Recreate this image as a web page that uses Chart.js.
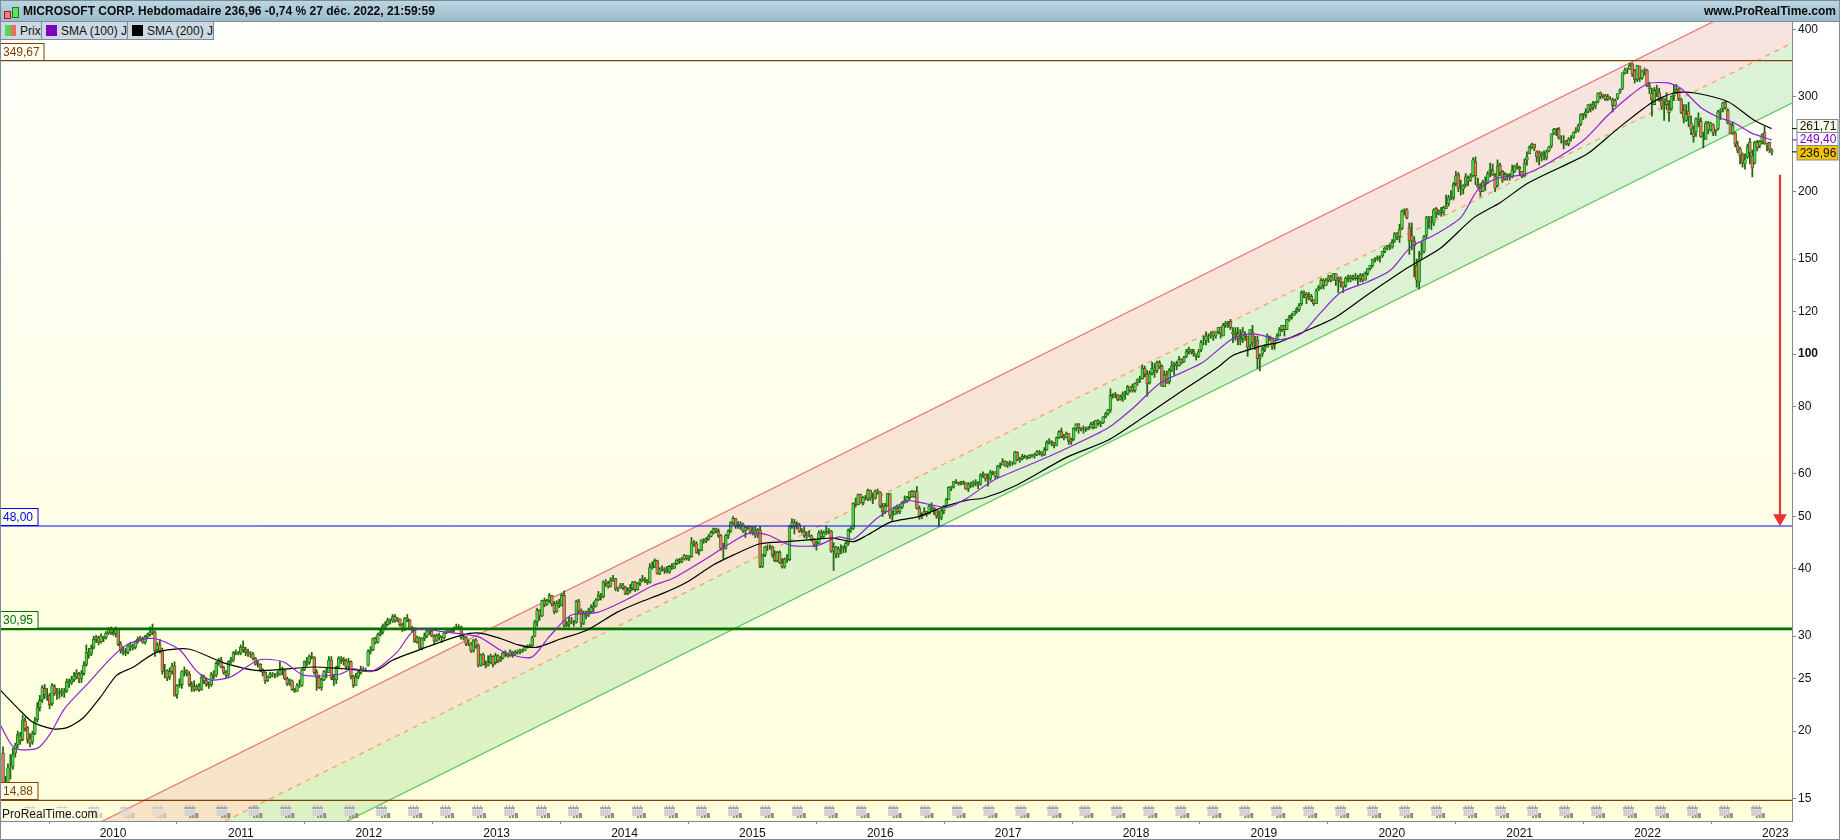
<!DOCTYPE html>
<html lang="fr">
<head>
<meta charset="utf-8">
<title>MICROSOFT CORP. Hebdomadaire</title>
<script src="https://cdn.jsdelivr.net/npm/chart.js@4"></script>
<style>
html, body { margin: 0; padding: 0; background: #fff; }
#frame { position: relative; width: 1840px; height: 840px; overflow: hidden; font-family: "Liberation Sans", Arial, sans-serif; }
#frame canvas { position: absolute; left: 0; top: 0; }
#edge { position: absolute; left: 0; top: 0; width: 1838px; height: 838px; border: 1px solid #7a8c98; pointer-events: none; }
#titlebar { position: absolute; left: 0; top: 0; width: 1840px; height: 21px; background: linear-gradient(#bdd6e2, #9dbccc); border-bottom: 1px solid #7a8c98; font-weight: bold; font-size: 12px; line-height: 23px; color: #0a0a0a; }
#titlebar .name { position: absolute; left: 23px; top: 0; white-space: nowrap; }
#titlebar .site { position: absolute; right: 4px; top: 0; white-space: nowrap; }
.candle { position: absolute; border: 1px solid; }
#legend { position: absolute; left: 1px; top: 22px; height: 17px; display: flex; font-size: 12px; line-height: 18px; color: #111; }
#legend div { position: relative; background: #ccd9e2; border-right: 1px solid #7a8c98; border-bottom: 1px solid #7a8c98; padding-left: 19px; height: 17px; white-space: nowrap; }
#legend i { position: absolute; left: 4px; top: 3px; width: 11px; height: 11px; }
</style>
</head>
<body>
<div id="frame">
  <canvas id="chart" width="1840" height="840"></canvas>
  <div id="titlebar">
    <span class="candle" style="left:4px;top:11px;width:5px;height:6px;background:#f08080;border-color:#a02020"></span>
    <span class="candle" style="left:12px;top:7px;width:5px;height:9px;background:#60e060;border-color:#108010"></span>
    <span class="name">MICROSOFT CORP. Hebdomadaire 236,96 -0,74 % 27 déc. 2022, 21:59:59</span>
    <span class="site">www.ProRealTime.com</span>
  </div>
  <div id="legend">
    <div style="width:21px"><i style="background:linear-gradient(90deg,#55d655 55%,#e87060 55%)"></i>Prix</div>
    <div style="width:66px"><i style="background:#8000c0"></i>SMA (100) J</div>
    <div style="width:66px"><i style="background:#000"></i>SMA (200) J</div>
  </div>
  <div id="edge"></div>
</div>
<script>
// weekly candles (first row is 2009, then one row per year)
const opens = [
18.2,16.0,15.4,17.1,17.2,18.2,18.9,19.6,19.3,20.9,20.3,19.4,19.1,19.8,21.0,22.1,22.9,24.0,23.4,23.3,22.5,24.2,23.6,23.5,23.5,23.6,23.8,24.7,24.6,24.9,25.2,25.5,25.0,25.6,26.6,28.0,27.8,28.6,29.6,29.8,29.3,29.9,29.8,30.4,30.9,
30.5,30.3,30.9,29.0,28.2,28.0,28.0,28.8,28.7,28.6,29.3,29.6,29.7,29.2,29.9,30.2,30.6,30.5,28.3,28.9,28.2,25.8,25.9,25.2,25.8,26.4,23.4,24.3,24.4,25.8,25.9,25.5,24.4,24.2,23.9,24.2,23.9,25.2,24.8,24.4,24.4,25.5,25.4,26.7,27.1,26.3,25.7,25.4,26.9,27.1,27.9,28.0,
27.9,28.6,28.3,28.0,27.8,27.8,27.3,26.6,26.6,26.0,25.7,24.8,25.2,25.5,25.4,25.4,25.5,25.9,25.9,25.0,24.5,24.8,23.9,23.7,24.3,24.3,26.0,26.9,26.8,27.5,27.4,25.7,25.1,24.1,24.9,25.8,25.7,27.1,25.1,24.9,26.3,27.3,27.2,27.0,26.3,26.9,25.3,24.3,25.2,25.7,26.0,26.0,
26.5,28.1,28.3,29.7,29.2,30.2,30.5,31.2,31.5,32.1,32.0,32.6,32.0,32.3,31.5,30.9,32.4,32.1,30.9,31.0,29.3,29.8,28.5,29.7,30.0,30.7,30.6,30.0,29.4,30.1,29.8,29.8,30.4,30.9,30.6,30.8,31.0,31.2,31.2,29.8,29.9,29.0,29.0,28.2,29.5,28.8,26.5,27.7,26.6,26.5,26.8,27.5,
26.8,27.6,27.0,27.3,27.9,27.9,27.6,28.0,27.8,28.0,28.0,28.1,28.2,28.6,28.7,28.8,30.0,31.9,33.5,32.7,34.9,34.3,34.9,35.7,34.4,33.3,34.5,34.2,35.7,31.4,31.6,31.9,31.8,31.8,34.8,33.4,31.7,33.0,32.8,33.3,33.9,34.1,35.0,35.7,35.5,37.8,37.6,37.1,38.1,38.4,36.7,36.8,
37.3,36.9,36.0,36.4,36.8,37.8,36.6,37.6,38.0,38.3,38.0,37.7,40.2,40.3,41.4,39.2,40.0,40.0,39.7,39.5,40.4,40.1,40.9,41.5,41.2,41.7,42.3,41.8,42.1,44.7,44.5,42.9,43.2,45.2,45.0,45.4,45.9,46.7,47.5,47.0,46.1,43.6,43.6,46.1,47.0,48.7,49.6,48.0,47.8,48.4,47.0,47.7,
47.9,46.8,47.2,46.2,47.2,40.4,42.4,43.9,43.9,43.9,42.4,41.4,42.9,41.0,40.3,41.7,41.6,47.9,48.7,47.8,48.3,46.9,46.9,46.1,46.0,46.1,45.3,44.4,44.6,46.6,45.9,46.7,46.7,47.0,43.1,43.9,42.6,43.5,43.5,43.9,44.6,47.1,47.5,52.9,52.6,54.9,53.0,54.2,53.9,55.9,54.1,54.1,
55.7,55.5,52.3,51.0,52.3,55.1,50.2,50.5,51.8,51.0,52.0,53.1,53.5,54.2,55.6,54.4,55.6,51.8,49.9,50.4,51.1,50.6,52.3,51.8,51.5,50.1,49.8,51.2,52.3,53.7,56.6,56.7,58.0,57.9,57.6,58.0,57.7,56.2,57.3,57.4,57.6,57.8,57.4,59.7,59.9,58.7,58.7,60.4,60.5,59.3,62.0,62.3,
63.2,62.2,62.8,62.7,62.7,65.7,63.6,64.0,64.6,64.6,64.3,64.9,64.9,65.0,65.9,65.7,65.0,66.5,68.5,69.0,68.4,67.7,70.0,71.8,70.3,70.0,71.2,68.9,69.5,72.8,74.2,73.0,72.7,72.5,72.5,73.0,74.0,73.0,75.3,74.4,74.5,76.5,77.5,78.8,83.8,84.1,84.0,82.4,83.3,84.3,84.2,86.9,
86.9,85.6,88.6,89.8,90.0,94.0,91.7,88.5,92.1,94.3,93.2,96.5,94.9,87.0,91.6,88.9,93.3,95.1,96.0,95.2,98.0,96.9,99,101,102,101,100,99,102,106,106,108,108,110,108,110,112,108,113,114,115,109,110,109,107,107,109,108,104,110,106,106,
99,100,102,103,108,107,104,106,108,111,113,111,116,117,118,120,121,124,130,129,127,128,126,124,132,133,137,134,137,139,137,141,137,138,136,134,138,139,138,139,138,138,140,137,141,144,146,150,150,152,152,155,
158,159,158,162,167,165,171,185,185,172,166,162,146,136,153,155,166,176,175,175,186,182,184,183,186,190,196,195,207,215,201,202,206,212,210,214,227,206,205,200,207,208,219,219,213,205,224,218,211,215,214,213,
218,223,222,218,214,229,235,242,245,237,236,234,230,231,238,243,257,262,261,253,247,248,245,251,252,260,260,267,279,277,282,289,287,289,294,305,302,301,297,299,296,289,298,306,311,332,337,337,345,335,323,342,
325,336,336,314,304,290,309,305,296,294,295,284,285,301,305,310,296,283,271,282,268,257,258,272,270,248,250,268,260,266,258,262,282,285,293,283,267,257,257,244,240,234,225,232,247,233,226,247,243,248,258,244,247,238];
const highs = [
18.7,16.5,17.4,18.1,18.6,19.0,20.0,19.9,21.4,21.2,20.4,19.8,20.0,21.2,22.6,23.3,24.3,24.4,24.0,23.5,24.5,24.4,24.0,24.0,24.0,24.0,25.0,25.0,25.3,25.7,26.0,25.7,25.9,26.9,28.9,28.5,28.9,30.0,30.1,30.0,30.3,30.0,30.6,31.1,31.2,
31.0,31.2,30.9,29.3,28.7,28.5,29.0,29.2,29.0,29.4,29.9,30.0,29.9,30.1,30.4,31.2,31.6,30.7,29.2,29.6,28.5,26.6,26.0,26.2,26.7,26.9,24.4,25.0,25.9,26.3,26.0,25.8,24.7,24.8,24.4,24.5,25.5,25.4,25.1,24.7,25.7,25.9,26.9,27.3,27.4,26.4,25.9,27.0,27.4,28.1,28.3,28.1,
28.9,29.4,28.6,28.4,28.1,28.0,27.4,27.0,26.7,26.1,25.8,25.3,25.7,25.7,25.6,25.8,26.9,26.3,26.0,25.2,25.0,24.9,24.0,24.5,24.9,26.1,27.0,27.4,27.7,28.0,27.5,26.0,25.4,25.1,25.9,26.2,27.5,27.5,25.5,26.4,27.5,27.5,27.4,27.2,27.3,27.0,25.4,25.6,25.9,26.4,26.3,26.2,
28.3,28.7,29.8,29.9,30.4,30.8,31.6,31.9,32.4,32.3,32.9,32.9,32.5,32.3,31.7,32.5,32.9,32.2,31.3,31.1,30.0,29.9,29.8,30.4,31.0,31.0,31.0,30.2,30.3,30.4,30.0,30.6,31.0,31.0,31.0,31.2,31.6,31.5,31.3,30.3,30.0,29.5,29.2,29.6,29.7,29.0,27.8,27.9,27.0,27.6,27.8,27.6,
27.9,27.7,27.5,28.0,28.2,27.9,28.3,28.1,28.2,28.3,28.4,28.4,28.7,28.9,29.0,30.0,32.1,33.8,33.6,35.0,35.3,35.1,36.0,35.7,34.8,34.9,35.1,36.0,36.4,32.0,32.5,32.5,32.1,35.0,35.1,33.7,33.4,33.4,33.8,34.3,34.7,35.2,36.3,36.0,38.0,38.2,37.9,38.5,38.9,38.4,37.0,37.6,
37.6,37.1,36.9,37.4,37.9,37.9,37.7,38.3,38.9,38.5,38.2,40.9,41.2,41.7,41.5,40.2,40.5,40.2,40.4,40.6,40.9,41.0,41.7,41.8,42.0,42.5,42.4,42.3,45.7,45.1,44.9,43.5,45.3,45.5,45.7,46.3,47.0,47.6,47.6,47.4,46.3,44.6,46.3,47.2,48.9,50.0,49.0,48.9,48.9,48.6,48.0,48.0,
48.0,47.9,48.0,47.5,47.9,42.5,44.0,44.3,44.3,44.1,43.2,43.1,43.2,41.8,41.9,42.5,48.1,49.5,49.4,48.9,48.6,47.5,47.8,46.8,47.0,46.2,45.5,45.0,47.0,47.2,47.0,48.0,47.5,47.1,44.7,44.0,43.9,44.3,44.1,44.9,47.4,47.8,53.0,54.1,55.0,55.0,54.4,54.7,56.2,56.0,55.3,56.0,
56.2,55.6,52.9,52.9,55.1,55.1,51.3,52.1,52.5,52.4,53.3,54.6,54.5,55.6,55.9,55.8,56.8,52.3,50.8,51.9,51.1,52.7,53.0,52.0,51.6,51.2,51.6,52.4,54.0,56.8,56.9,58.1,58.5,57.9,58.1,58.2,57.7,57.8,57.9,58.2,58.5,58.0,60.0,60.5,60.0,60.0,60.9,60.7,60.5,62.2,62.8,64.0,
63.4,63.2,63.4,63.1,66.0,65.9,64.3,65.2,65.0,64.8,65.1,65.2,65.5,66.2,66.3,65.9,67.1,69.1,69.7,69.1,68.6,70.2,72.1,72.9,71.0,71.7,71.2,69.9,73.0,74.3,74.4,73.1,73.6,73.2,73.4,74.7,75.0,75.4,75.6,75.0,76.6,77.9,79.0,86.2,84.5,84.9,84.1,83.9,85.1,85.4,87.5,87.0,
88.0,88.4,90.0,91.0,95.5,95.0,93.2,93.0,96.5,96.0,97.0,97.2,95.5,93.0,93.0,94.0,97.0,96.5,97.0,99.0,98.0,99.0,102,103,102,102,100,102,106,108,110,109,110,110,110,112,112,114,115,115,116,112,112,112,111,112,110,105,111,113,108,108,
100,103,104,109,108,107,106,109,112,113,113,116,118,119,120,122,124,131,131,130,130,129,126,132,134,138,138,138,140,140,141,141,139,139,136,139,140,140,140,141,140,141,141,142,144,146,150,151,152,152,155,158,
159,160,163,168,168,174,185,186,186,175,175,165,150,155,161,166,180,180,180,186,187,185,187,188,197,197,201,208,218,217,210,206,216,214,216,231,232,212,207,210,213,218,226,225,216,229,226,219,217,216,216,224,
224,226,223,218,230,237,243,246,245,238,238,237,238,239,243,256,262,262,263,254,254,249,252,254,258,263,267,279,279,285,290,291,294,294,305,306,303,303,303,300,298,297,304,310,332,339,339,346,346,337,343,339,
336,339,337,319,311,312,315,311,298,298,305,295,301,315,316,311,298,290,290,293,276,265,274,280,274,258,270,270,269,267,261,283,285,293,294,285,268,269,258,248,242,236,235,245,251,239,248,249,249,256,264,246,247,240];
const lows = [
15.9,14.9,15.2,16.3,17.0,17.9,18.6,18.9,19.2,20.0,19.0,18.7,18.9,19.7,20.8,21.8,22.6,23.0,22.8,22.0,22.3,23.3,22.9,23.0,23.2,23.1,23.6,24.1,24.4,24.7,25.0,24.6,24.6,25.4,26.4,27.3,27.6,28.4,29.2,28.9,29.1,29.3,29.6,30.2,30.2,
30.1,29.9,28.8,27.9,27.7,27.6,27.8,28.2,28.3,28.4,29.1,29.4,29.1,29.0,29.7,30.0,30.2,27.5,28.0,27.9,25.5,25.1,24.8,24.9,25.5,23.2,23.0,24.1,24.0,25.3,25.3,24.2,23.7,23.7,23.8,23.7,23.8,24.5,24.2,24.0,24.2,25.0,25.2,26.5,26.2,25.5,25.1,25.2,26.7,26.9,27.7,27.7,
27.7,28.0,27.6,27.5,27.4,27.1,26.5,26.3,25.8,25.3,24.5,24.7,25.1,25.2,25.1,25.2,25.4,25.4,24.9,24.3,24.3,23.8,23.6,23.7,24.1,24.2,25.9,26.4,26.6,27.2,25.5,23.8,24.0,23.8,24.8,25.1,25.7,24.9,24.3,24.5,26.2,26.7,26.5,26.0,26.0,25.0,24.1,24.3,25.0,25.5,25.8,25.8,
26.4,27.8,28.2,29.0,29.1,30.0,30.3,31.0,31.4,31.6,31.8,31.8,31.9,31.3,30.6,30.7,31.9,30.8,30.5,29.2,29.1,28.4,28.3,29.4,29.8,30.2,29.9,29.0,29.3,29.5,29.2,29.6,30.3,30.5,30.5,30.5,30.9,30.9,29.6,29.5,28.8,28.8,28.0,28.0,28.5,26.3,26.4,26.5,26.2,26.4,26.7,26.3,
26.6,26.8,26.9,27.2,27.5,27.4,27.5,27.4,27.6,27.8,27.8,28.0,28.2,28.5,28.6,28.6,29.9,31.3,32.1,32.6,34.0,34.2,34.6,34.1,33.0,33.2,33.9,34.1,31.2,31.2,31.2,31.6,31.3,31.7,33.0,31.2,31.5,32.3,32.6,33.1,33.3,34.0,34.9,35.0,35.3,37.1,36.8,37.0,37.9,36.4,36.3,36.8,
36.6,35.8,35.8,36.1,36.5,36.3,36.5,37.2,37.9,37.7,37.4,37.6,39.9,40.2,39.1,39.0,39.6,39.2,39.3,39.2,39.9,40.0,40.7,40.9,41.0,41.5,41.5,41.4,42.0,44.0,42.7,42.4,43.2,44.6,44.7,45.2,45.8,46.4,46.6,45.7,43.3,41.6,43.5,45.5,46.7,48.3,47.5,47.5,47.3,46.7,45.7,47.3,
46.4,46.2,45.7,45.7,40.2,40.2,42.1,43.2,43.5,42.0,41.2,41.2,40.9,40.1,40.1,41.1,41.4,47.5,46.4,47.4,46.7,46.6,45.7,45.5,45.8,45.0,43.9,43.3,44.5,45.6,45.5,46.3,46.4,42.9,39.7,41.9,42.0,42.6,42.8,42.9,44.2,46.7,47.3,52.1,52.5,52.9,52.5,53.6,53.5,53.6,52.8,53.8,
55.0,51.9,50.0,50.6,52.2,49.6,48.9,50.4,50.5,50.6,51.7,52.9,53.1,53.7,54.3,54.2,51.6,49.4,49.5,50.3,50.0,50.5,51.3,50.4,49.6,48.0,49.3,50.6,52.1,53.7,55.8,56.4,57.5,57.1,57.2,57.3,56.2,55.6,56.6,56.7,57.0,56.3,57.1,59.0,58.1,56.9,58.2,59.7,58.8,59.0,61.4,62.4,
61.9,61.6,62.0,62.2,62.5,63.4,63.0,63.6,64.1,63.8,64.0,64.4,64.1,64.8,65.0,64.6,64.8,66.3,68.1,67.6,67.0,67.6,69.7,69.9,69.3,69.9,68.0,68.0,69.2,72.0,71.3,72.0,71.3,71.9,72.4,72.9,72.6,72.9,73.7,73.3,74.3,76.1,77.0,78.0,82.8,83.0,81.9,82.1,81.7,82.4,84.0,85.0,
85.0,85.0,87.5,88.5,89.8,90.7,83.5,88.0,91.5,90.5,92.4,94.0,87.1,87.0,88.2,88.0,92.8,91.5,93.5,95.0,95.8,96.5,98.5,100,100,99,97.5,98.5,101,104,104,105,107,106,107,109,107,108,112,112,111,105,106,104,104,105,106,99,102,103,102,94,
93,99,101,103,106,102,102,106,108,110,108,111,115,116,118,119,120,123,127,124,126,125,123,124,131,132,132,134,136,136,137,134,130,133,130,133,136,136,137,137,134,136,136,137,140,143,145,148,149,148,151,154,
156,156,157,161,163,161,170,181,178,153,156,139,133,132,150,154,164,171,170,173,179,181,180,181,186,188,193,193,205,200,197,198,204,205,209,213,206,203,196,200,201,207,213,214,200,204,214,208,210,210,210,212,
217,220,214,212,213,224,235,240,238,227,224,228,229,229,237,241,255,254,250,246,240,244,243,248,251,257,258,265,272,274,280,281,283,285,292,297,298,295,295,296,281,288,296,304,309,330,331,337,327,318,320,320,
323,329,313,304,276,293,300,294,284,271,284,270,283,295,304,295,279,268,270,264,255,247,253,264,252,241,250,256,259,254,254,260,272,281,284,267,256,255,242,236,225,222,220,230,225,213,225,238,241,245,245,238,236,234];
const closes = [
16.0,15.3,17.1,17.1,18.1,18.8,19.7,19.2,20.9,20.2,19.3,19.0,19.8,20.9,22.1,22.8,24.1,23.4,23.4,22.4,24.3,23.5,23.5,23.5,23.7,23.7,24.7,24.6,24.9,25.3,25.6,25.0,25.6,26.5,28.0,27.7,28.5,29.6,29.9,29.2,30.0,29.7,30.4,30.9,30.5,
30.3,30.9,29.0,28.2,28.0,27.9,28.8,28.7,28.6,29.3,29.6,29.7,29.2,29.9,30.2,30.5,30.5,28.2,28.9,28.2,25.8,25.8,25.1,25.8,26.4,23.3,24.3,24.4,25.8,25.8,25.6,24.4,24.2,23.9,24.2,23.9,25.2,24.8,24.4,24.4,25.5,25.4,26.7,27.1,26.3,25.7,25.4,26.9,27.1,27.9,28.0,27.9,
28.6,28.3,28.0,27.8,27.8,27.3,26.6,26.6,26.0,25.7,24.8,25.2,25.5,25.4,25.4,25.5,25.9,25.9,25.0,24.5,24.8,23.9,23.7,24.3,24.3,26.0,26.9,26.8,27.5,27.4,25.7,25.1,24.1,24.9,25.8,25.7,27.1,25.1,24.9,26.3,27.3,27.2,27.0,26.3,26.9,25.3,24.3,25.2,25.7,26.0,26.0,26.0,
28.1,28.3,29.7,29.2,30.2,30.5,31.3,31.5,32.1,32.0,32.6,32.0,32.3,31.5,30.8,32.4,32.1,30.9,31.0,29.3,29.8,28.5,29.7,30.0,30.7,30.6,30.0,29.4,30.1,29.8,29.8,30.4,30.9,30.6,30.8,31.0,31.2,31.2,29.8,29.9,29.0,29.0,28.2,29.5,28.8,26.5,27.7,26.6,26.5,26.8,27.5,26.6,
27.6,27.0,27.3,27.9,27.9,27.6,28.1,27.8,28.0,28.0,28.1,28.2,28.6,28.7,28.8,29.8,31.8,33.5,32.7,34.9,34.3,34.9,35.7,34.4,33.3,34.5,34.2,35.7,31.4,31.6,31.9,31.8,31.8,34.8,33.4,31.7,33.0,32.8,33.3,33.9,34.1,35.0,35.7,35.5,37.8,37.6,37.1,38.1,38.4,36.7,36.8,37.3,
36.9,36.0,36.4,36.8,37.8,36.6,37.6,38.0,38.3,38.0,37.7,40.2,40.3,41.4,39.2,40.0,40.0,39.7,39.5,40.4,40.1,40.9,41.5,41.2,41.7,42.3,41.8,42.1,44.7,44.5,42.9,43.2,45.2,45.0,45.4,45.9,46.7,47.5,47.0,46.1,43.6,43.6,46.1,47.0,48.7,49.6,48.0,47.8,48.4,47.0,47.7,47.9,
46.8,47.2,46.2,47.2,40.4,42.4,43.9,43.9,43.9,42.4,41.4,42.9,41.0,40.3,41.7,41.6,47.9,48.7,47.8,48.3,46.9,46.9,46.1,46.0,46.1,45.3,44.4,44.6,46.6,45.9,46.7,46.7,47.0,43.1,43.9,42.6,43.5,43.5,43.9,44.6,47.1,47.5,52.9,52.6,54.9,53.0,54.2,53.9,55.9,54.1,54.1,55.7,
55.5,52.3,51.0,52.3,55.1,50.2,50.5,51.8,51.0,52.0,53.1,53.5,54.2,55.6,54.4,55.6,51.8,49.9,50.4,51.1,50.6,52.3,51.8,51.5,50.1,49.8,51.2,52.3,53.7,56.6,56.7,58.0,57.9,57.6,58.0,57.7,56.2,57.3,57.4,57.6,57.8,57.4,59.7,59.9,58.7,58.7,60.4,60.5,59.3,62.0,62.3,63.2,
62.1,62.8,62.7,62.7,65.8,63.7,64.0,64.6,64.6,64.3,64.9,64.9,65.0,65.9,65.7,65.0,66.4,68.5,69.0,68.4,67.7,70.0,71.8,70.3,70.0,71.2,68.9,69.5,72.8,74.2,73.0,72.7,72.5,72.5,73.0,74.0,73.0,75.3,74.4,74.5,76.5,77.5,78.8,83.8,84.1,84.0,82.4,83.3,84.3,84.2,86.9,85.5,
85.5,88.2,89.6,90.0,94.1,91.8,88.2,92.0,94.1,93.1,96.5,94.6,87.2,91.3,88.5,93.1,95.0,95.8,95.2,97.7,96.4,98.4,101,102,101,100,99,101,105,106,108,108,109,108,110,112,109,113,114,114,112,110,109,107,106,110,108,103,111,105,106,98,
98,102,103,108,107,103,106,108,111,113,111,116,117,118,120,121,123,130,129,127,128,126,124,131,133,137,134,137,139,137,141,137,138,136,133,138,139,138,139,138,138,140,137,141,144,146,150,150,151,152,155,157,
159,159,161,167,165,170,184,185,179,162,162,159,137,150,154,165,179,175,175,185,183,184,183,187,188,195,196,206,214,203,201,205,213,209,213,229,214,204,200,208,206,216,220,215,203,223,217,210,215,214,213,219,
223,222,220,213,226,232,242,245,241,232,232,236,230,237,242,256,261,261,252,253,248,245,250,251,258,259,265,278,278,281,290,285,290,293,304,300,301,296,300,299,289,295,304,309,332,336,337,343,330,323,343,324,
335,336,314,310,296,308,306,295,288,297,290,280,300,304,309,297,280,274,278,275,261,253,273,270,253,248,268,260,268,257,260,281,283,292,286,268,256,265,245,238,233,226,229,242,236,221,247,241,248,255,245,245,239,237];

const firstWeek = 2009.14, lastWeek = 2022.973;

const sma100Years = [2009.12,2009.23,2009.41,2009.51,2009.62,2009.81,2009.99,2010.13,2010.32,2010.52,2010.65,2010.76,2010.92,2011.14,2011.33,2011.49,2011.77,2011.88,2012.02,2012.22,2012.36,2012.61,2012.86,2013.06,2013.27,2013.41,2013.58,2013.79,2014.01,2014.22,2014.38,2014.65,2014.80,2014.98,2015.12,2015.30,2015.51,2015.67,2015.79,2015.98,2016.21,2016.31,2016.42,2016.53,2016.68,2016.89,2017.20,2017.46,2017.78,2017.98,2018.19,2018.51,2018.76,2018.92,2019.13,2019.29,2019.42,2019.60,2019.81,2019.99,2020.15,2020.33,2020.54,2020.67,2020.83,2021.03,2021.24,2021.50,2021.69,2021.87,2022.00,2022.16,2022.26,2022.42,2022.55,2022.68,2022.81,2022.97];
const sma100 = [20.5,18.6,18.6,19.8,22.0,24.6,27.4,29.1,29.7,28.3,25.9,24.9,25.2,27.1,26.9,25.4,25.5,26.1,25.8,28.0,30.8,30.5,29.9,28.0,27.4,29.9,32.8,33.2,35.0,37.2,38.4,41.9,44.2,46.6,46.2,44.2,44.2,45.8,45.4,49.7,53.4,53.1,52.4,52.0,54.1,58.4,62.8,66.9,72.9,79.5,88.4,96.1,107,109,106.4,109,117.6,130,136,143,158,166,179,201,212,215,227,249,277,302,317,318,311,286,275,268,257,249.4];
const sma200Years = [2009.12,2009.26,2009.37,2009.53,2009.64,2009.77,2009.90,2010.03,2010.16,2010.34,2010.59,2010.86,2011.14,2011.56,2011.81,2012.05,2012.19,2012.43,2012.72,2012.87,2013.03,2013.17,2013.31,2013.51,2013.71,2013.94,2014.11,2014.30,2014.49,2014.69,2014.85,2015.06,2015.27,2015.51,2015.63,2015.79,2015.90,2016.08,2016.29,2016.49,2016.68,2016.81,2017.07,2017.46,2017.78,2018.06,2018.37,2018.64,2018.76,2019.00,2019.11,2019.29,2019.55,2019.81,2020.13,2020.38,2020.64,2020.85,2021.06,2021.32,2021.53,2021.77,2022.03,2022.21,2022.36,2022.63,2022.83,2022.97];
const sma200 = [23.8,22.0,20.8,20.2,20.3,21.2,23.1,25.4,26.3,28.0,28.4,26.8,25.9,26.3,26.1,25.9,27.1,28.5,30.1,30.4,29.7,28.9,28.6,29.7,30.8,33.2,34.6,36.0,37.8,40.6,42.4,44.5,44.9,45.4,45.6,44.9,46.2,48.8,49.9,52.0,53.6,54.1,57.2,64.4,69.2,76.4,85.8,94.5,99.5,103.8,105,109.4,116.6,128.8,144.8,157,178.8,191,207,222,235,262,292,305,305,293.5,271.6,261.7];

// channel: value at the left and right edge of the plot
const channelEnds = [2009.124, 2023.13];
const channelUpper = [10.99, 488.2];
const channelMiddle = [8.47, 377];
const channelLower = [6.54, 291.8];

const levelValues = [349.67, 48, 30.95, 14.88];
const levelLabels = ["349,67", "48,00", "30,95", "14,88"];
const levelColors = ["#804000", "#0000ff", "#007000", "#804000"];
const levelWidths = [1.2, 1, 2.6, 1.2];

const lastLabels = ["261,71", "249,40", "236,96"];
const lastValues = [261.71, 249.4, 236.96];

const arrowYear = [2023.036, 2023.036];
const arrowValues = [215, 49.6];

const yTicks = [400, 300, 200, 150, 120, 100, 80, 60, 50, 40, 30, 25, 20, 15];
const xTicks = [2010,2011,2012,2013,2014,2015,2016,2017,2018,2019,2020,2021,2022,2023];

const weekYear = i => firstWeek + i * (lastWeek - firstWeek) / (closes.length - 1);

// small calendar icons along the bottom of the plot
const eventYears = [];
for (let q = 0; q < 55; q++) eventYears.push(2009.366 + q * 0.25);
function makeIcon(alpha) {
	const c = document.createElement("canvas");
	c.width = 15; c.height = 14;
	const g = c.getContext("2d");
	g.globalAlpha = alpha;
	g.fillStyle = "#e2e2e2"; g.fillRect(0, 2, 11, 9);
	g.fillStyle = "#a8a8a8"; g.fillRect(0, 2, 11, 2);
	g.fillRect(2, 0, 1, 3); g.fillRect(5, 0, 1, 3); g.fillRect(8, 0, 1, 3);
	g.fillStyle = "#c4c4c4";
	for (let x = 1; x < 11; x += 2) g.fillRect(x, 5, 1, 6);
	g.fillStyle = "#8c8c8c";
	g.fillRect(5, 11, 2, 2); g.fillRect(8, 10, 2, 3); g.fillRect(11, 8, 3, 5);
	return c;
}
const iconPale = makeIcon(0.4), iconDark = makeIcon(1);

const bgPlugin = {
	id: "plotBackground",
	beforeDraw(chart) {
		const { ctx, chartArea: a } = chart;
		const grad = ctx.createLinearGradient(0, a.top, 0, a.bottom);
		grad.addColorStop(0, "#fffffa");
		grad.addColorStop(1, "#ffffdc");
		ctx.fillStyle = grad;
		ctx.fillRect(a.left, a.top, a.width, a.height);
	}
};

const labelPlugin = {
	id: "priceLabels",
	afterDraw(chart) {
		const { ctx, chartArea: a } = chart;
		const y = chart.scales.y;
		ctx.save();
		ctx.font = '12px "Liberation Sans", Arial, sans-serif';
		ctx.textBaseline = "middle";
		// level tags sitting on their lines, left edge
		levelValues.forEach((v, i) => {
			const py = Math.round(y.getPixelForValue(v));
			const w = levelLabels[i].length > 5 ? 43 : 37;
			ctx.fillStyle = i == 0 ? "#fffffa" : "#ffffe6";
			ctx.fillRect(1, py - 17, w, 17);
			ctx.strokeStyle = levelColors[i];
			ctx.lineWidth = 1;
			ctx.strokeRect(0.5, py - 17.5, w + 0.5, 17);
			ctx.fillStyle = levelColors[i];
			ctx.textAlign = "left";
			ctx.fillText(levelLabels[i], 3, py - 8);
		});
		// last value tags, right of the axis
		const tagTops = [119.5, 132.5, 145.5];
		const tagHeights = [13, 13, 14.5];
		const tagFills = ["#fbf8e6", "#ffffff", "#f5c400"];
		const tagText = ["#111111", "#8000c0", "#111111"];
		const tickColors = ["#000000", "#8000c0", "#000000"];
		lastValues.forEach((v, i) => {
			const py = y.getPixelForValue(v);
			ctx.fillStyle = tickColors[i];
			ctx.fillRect(a.right, py - 0.5, 5, 1);
			ctx.fillStyle = tagFills[i];
			ctx.fillRect(1797, tagTops[i], 41, tagHeights[i]);
			ctx.strokeStyle = "#7a8c98";
			ctx.strokeRect(1797, tagTops[i], 41, tagHeights[i]);
			ctx.fillStyle = tagText[i];
			ctx.textAlign = "center";
			ctx.fillText(lastLabels[i], 1818, tagTops[i] + tagHeights[i] / 2 + 0.5);
		});
		ctx.textAlign = "left";
		ctx.fillStyle = "rgba(255,255,230,0.7)";
		ctx.fillRect(1, 808, 85, 13);
		ctx.fillStyle = "#111";
		ctx.fillText("ProRealTime.com", 2, 815);
		ctx.restore();
	}
};

new Chart(document.getElementById("chart").getContext("2d"), {
	type: "bar",
	plugins: [bgPlugin, labelPlugin],
	data: {
		datasets: [
			// channel, bands filled between neighbouring lines
			{ type: "line", data: channelEnds.map((x, i) => ({ x, y: channelUpper[i] })), borderColor: "#e87c7c", borderWidth: 1.3, pointRadius: 0, fill: "+1", backgroundColor: "rgba(202,75,80,0.15)", order: 9 },
			{ type: "line", data: channelEnds.map((x, i) => ({ x, y: channelMiddle[i] })), borderColor: "#f4a468", borderWidth: 1.3, borderDash: [5, 5], pointRadius: 0, fill: "+1", backgroundColor: "rgba(80,190,92,0.2)", order: 9 },
			{ type: "line", data: channelEnds.map((x, i) => ({ x, y: channelLower[i] })), borderColor: "#60c860", borderWidth: 1.3, pointRadius: 0, fill: false, order: 9 },
			// earnings calendar icons
			{ type: "line", showLine: false, data: eventYears.map(x => ({ x, y: 14.16 })), pointStyle: ctx => ctx.dataIndex < 5 ? iconPale : iconDark, order: 8 },
			// wicks then bodies
			{ data: closes.map((c, i) => ({ x: weekYear(i), y: [lows[i], highs[i]] })), backgroundColor: "#22660f", barThickness: 1.1, grouped: false, order: 5 },
			{ data: closes.map((c, i) => ({ x: weekYear(i), y: [opens[i], c] })), backgroundColor: closes.map((c, i) => c >= opens[i] ? "#4ccf4c" : "#ee7060"), borderColor: "#22660f", borderWidth: 0.8, borderSkipped: false, barThickness: 2.9, grouped: false, order: 4 },
			// horizontal levels
			...levelValues.map((v, i) => ({ type: "line", data: channelEnds.map(x => ({ x, y: v })), borderColor: levelColors[i], borderWidth: levelWidths[i], pointRadius: 0, fill: false, order: 3 })),
			// moving averages
			{ type: "line", data: sma200Years.map((x, i) => ({ x, y: sma200[i] })), borderColor: "#000000", borderWidth: 1.2, pointRadius: 0, tension: 0.25, fill: false, order: 2 },
			{ type: "line", data: sma100Years.map((x, i) => ({ x, y: sma100[i] })), borderColor: "#9020d8", borderWidth: 1.2, pointRadius: 0, tension: 0.25, fill: false, order: 1 },
			// arrow towards the 48 level
			{ type: "line", data: arrowYear.map((x, i) => ({ x, y: arrowValues[i] })), borderColor: "#e83434", backgroundColor: "#e83434", borderWidth: 2.2, pointStyle: "triangle", pointRotation: 180, pointBorderWidth: 0, pointRadius: [0, 8], fill: false, order: 0 }
		]
	},
	options: {
		responsive: false,
		animation: false,
		events: [],
		layout: { autoPadding: false, padding: { top: 22, left: 1, right: 1, bottom: 1 } },
		plugins: { legend: { display: false }, tooltip: { enabled: false }, title: { display: false }, filler: { drawTime: "beforeDatasetsDraw" } },
		scales: {
			x: {
				type: "linear",
				bounds: "data",
				min: 2009.124,
				max: 2023.13,
				offset: false,
				afterBuildTicks: s => { s.ticks = xTicks.map(value => ({ value })); },
				afterFit: s => { s.height = 18; s.paddingLeft = 0; s.paddingRight = 0; },
				border: { color: "#7a8c98", width: 1 },
				grid: { drawOnChartArea: false, tickLength: 3, tickColor: "#7a8c98" },
				ticks: { autoSkip: false, maxRotation: 0, padding: 2, color: "#111", font: { family: '"Liberation Sans", Arial, sans-serif', size: 12 }, callback: v => String(v) }
			},
			y: {
				type: "logarithmic",
				position: "right",
				bounds: "data",
				min: 13.63,
				max: 412.5,
				afterBuildTicks: s => { s.ticks = yTicks.map(value => ({ value })); },
				afterFit: s => { s.width = 47; s.paddingTop = 0; s.paddingBottom = 0; },
				border: { color: "#7a8c98", width: 1 },
				grid: { drawOnChartArea: false, tickLength: 4, tickColor: "#7a8c98" },
				ticks: {
					autoSkip: false, padding: 2, color: "#111", align: "center", crossAlign: "near",
					font: ctx => ({ family: '"Liberation Sans", Arial, sans-serif', size: 12, weight: ctx.tick && ctx.tick.value == 100 ? "bold" : "normal" }),
					callback: v => String(v)
				}
			}
		}
	}
});
</script>
</body>
</html>
